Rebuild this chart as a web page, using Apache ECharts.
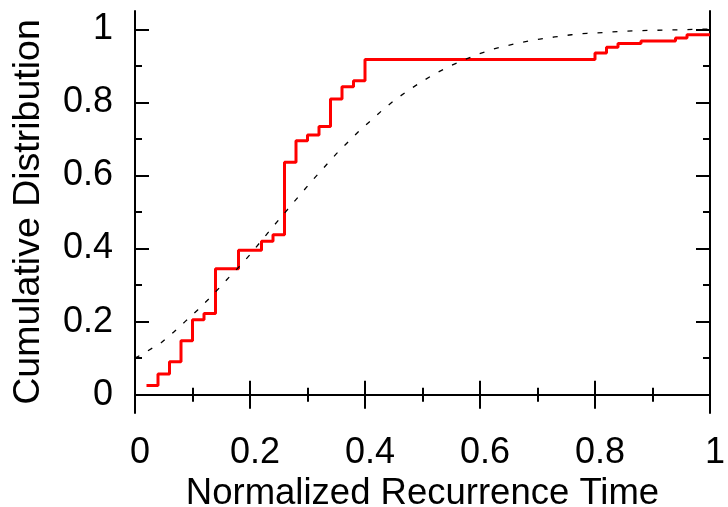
<!DOCTYPE html>
<html>
<head>
<meta charset="utf-8">
<script src="https://cdn.jsdelivr.net/npm/echarts@6/dist/echarts.min.js"></script>
<style>
html,body{margin:0;padding:0;background:#fff;}
#chart{width:728px;height:507px;}
</style>
</head>
<body>
<div id="chart"></div>
<script>
// Empirical step CDF (x where value jumps, value after jump)
var stepX = [0.02, 0.04, 0.06, 0.08, 0.10, 0.12, 0.14, 0.18, 0.22, 0.24, 0.26, 0.28, 0.30, 0.32, 0.34, 0.36, 0.38, 0.40, 0.80, 0.82, 0.84, 0.88, 0.94, 0.96, 1.00];
var stepY = [0.025, 0.057, 0.090, 0.148, 0.205, 0.222, 0.345, 0.395, 0.420, 0.438, 0.636, 0.695, 0.711, 0.734, 0.809, 0.843, 0.859, 0.917, 0.935, 0.951, 0.961, 0.968, 0.976, 0.985, 0.985];

// Fitted (dashed) curve
var curveX = [0, 0.020, 0.046, 0.067, 0.087, 0.109, 0.129, 0.147, 0.165, 0.186, 0.203, 0.239, 0.275, 0.311, 0.350, 0.388, 0.429, 0.449, 0.4725, 0.496, 0.520, 0.546, 0.572, 0.597, 0.623, 0.649, 0.675, 0.704, 0.730, 0.759, 0.786, 0.814, 0.843, 0.872, 0.899, 0.927, 0.957, 0.983, 1.0];
var curveY = [0.100, 0.118, 0.143, 0.171, 0.200, 0.232, 0.263, 0.293, 0.324, 0.358, 0.389, 0.458, 0.525, 0.591, 0.659, 0.719, 0.777, 0.803, 0.830, 0.854, 0.877, 0.898, 0.916, 0.932, 0.946, 0.956, 0.965, 0.973, 0.979, 0.985, 0.989, 0.991, 0.994, 0.996, 0.997, 0.998, 0.999, 1.000, 1.000];

var yTicks = [0, 0.2, 0.4, 0.6, 0.8, 1];
var yMinorTicks = [0.1, 0.3, 0.5, 0.7, 0.9];
var xTitle = 'Normalized Recurrence Time';
var yTitle = 'Cumulative Distribution';

function zip(a, b) { return a.map(function (v, i) { return [v, b[i]]; }); }

var FONT = 'Liberation Sans';
var black = '#000';
var chart = echarts.init(document.getElementById('chart'), null, {renderer: 'canvas'});

function yAx(pos, major, labels) {
  return {
    type: 'value', position: pos, min: -0.05, max: 1.05,
    axisLine: {show: major, lineStyle: {color: black, width: 2}},
    axisTick: {show: true, inside: true, length: major ? 14 : 7, customValues: major ? yTicks : yMinorTicks, lineStyle: {color: black, width: 2}},
    axisLabel: labels ? {show: true, customValues: yTicks, fontFamily: FONT, fontSize: 36, color: black, margin: 22} : {show: false},
    splitLine: {show: false},
    name: labels ? yTitle : '',
    nameLocation: 'middle', nameGap: 87, nameRotate: 90,
    nameTextStyle: {fontFamily: FONT, fontSize: 37.5, color: black}
  };
}
function xAx(pos, labels) {
  return {
    type: 'value', position: pos, min: 0, max: 1, interval: 0.2,
    axisLine: {show: true, lineStyle: {color: black, width: 2}},
    axisTick: {show: true, inside: true, length: 14, lineStyle: {color: black, width: 2}},
    minorTick: {show: true, splitNumber: 2, length: 7, lineStyle: {color: black, width: 2}},
    axisLabel: labels ? {show: true, fontFamily: FONT, fontSize: 36, color: black, margin: 22, padding: [0, 0, 0, 10]} : {show: false},
    splitLine: {show: false},
    name: labels ? xTitle : '',
    nameLocation: 'middle', nameGap: 56,
    nameTextStyle: {fontFamily: FONT, fontSize: 36.5, color: black}
  };
}

chart.setOption({
  animation: false,
  backgroundColor: '#fff',
  grid: {left: 135, top: 11, width: 575, height: 402, outerBoundsMode: 'none'},
  xAxis: [xAx('bottom', true), xAx('top', false)],
  yAxis: [yAx('left', true, true), yAx('left', false, false), yAx('right', true, false), yAx('right', false, false)],
  series: [
    {
      type: 'line', xAxisIndex: 0, yAxisIndex: 0,
      data: zip(stepX, stepY), step: 'end', showSymbol: false, symbol: 'none',
      lineStyle: {color: '#ff0000', width: 3}, z: 3
    },
    {
      type: 'line', xAxisIndex: 0, yAxisIndex: 0,
      data: zip(curveX, curveY), smooth: false, showSymbol: false, symbol: 'none',
      lineStyle: {color: black, width: 1.3, type: [5, 10]}, z: 4
    }
  ]
});
</script>
</body>
</html>
